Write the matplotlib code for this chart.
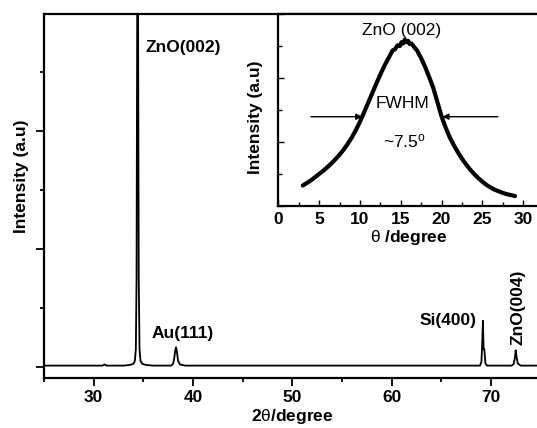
import matplotlib
matplotlib.use("Agg")
import matplotlib.pyplot as plt
from matplotlib.ticker import MultipleLocator

plt.rcParams['font.family'] = ['Liberation Sans', 'DejaVu Sans']
plt.rcParams['mathtext.fontset'] = 'custom'
plt.rcParams['mathtext.rm'] = 'Liberation Sans'
plt.rcParams['mathtext.it'] = 'Liberation Sans:italic'
plt.rcParams['mathtext.bf'] = 'Liberation Sans:bold'

# ---- main XRD pattern (2theta, intensity a.u.) ----
two_theta = [25.0, 30.9, 31.1, 31.3, 33.0, 33.6, 34.0, 34.15, 34.25, 34.32, 34.43,
             34.54, 34.62, 34.72, 34.9, 35.3, 36.0, 37.8, 38.0, 38.12, 38.22, 38.3,
             38.38, 38.5, 38.7, 39.2, 68.9, 69.05, 69.13, 69.2, 69.27, 69.33, 69.38,
             69.45, 69.6, 72.1, 72.3, 72.42, 72.5, 72.58, 72.7, 73.0, 75.0]
intensity = [0.02, 0.02, 0.04, 0.02, 0.02, 0.03, 0.05, 0.1, 0.3, 1.5, 9.0,
             1.5, 0.3, 0.1, 0.05, 0.03, 0.02, 0.02, 0.05, 0.15, 0.28, 0.33,
             0.26, 0.1, 0.04, 0.02, 0.02, 0.08, 0.4, 0.78, 0.3, 0.3, 0.22,
             0.06, 0.02, 0.02, 0.05, 0.15, 0.28, 0.18, 0.06, 0.02, 0.02]

# ---- inset: rocking curve of ZnO (002) ----
theta = [3.0, 3.5, 4.0, 4.5, 5.0, 5.5, 6.0, 6.5, 7.0, 7.5, 8.0, 8.5, 9.0, 9.5,
         10.0, 10.5, 11.0, 11.5, 12.0, 12.5, 13.0, 13.5, 14.0, 14.3, 14.6, 14.9,
         15.1, 15.3, 15.5, 15.7, 15.9, 16.1, 16.3, 16.6, 17.0, 17.5, 18.0, 18.5,
         19.0, 19.5, 20.0, 20.5, 21.0, 21.5, 22.0, 22.5, 23.0, 23.5, 24.0, 24.5,
         25.0, 25.5, 26.0, 26.5, 27.0, 27.5, 28.0, 28.5, 29.0]
rock = [0.64, 0.72, 0.80, 0.90, 1.00, 1.10, 1.21, 1.33, 1.46, 1.60, 1.76, 1.94, 2.14, 2.37,
        2.63, 2.92, 3.22, 3.52, 3.82, 4.11, 4.38, 4.62, 4.86, 4.90, 5.02, 5.00,
        5.12, 5.08, 5.20, 5.12, 5.16, 5.06, 5.08, 4.98, 4.86, 4.62, 4.34, 4.02,
        3.68, 3.24, 2.80, 2.45, 2.15, 1.90, 1.68, 1.48, 1.30, 1.14, 1.00, 0.87,
        0.76, 0.66, 0.58, 0.51, 0.46, 0.41, 0.37, 0.34, 0.31]

main_xticks = [30, 40, 50, 60, 70]
inset_xticks = [0, 5, 10, 15, 20, 25, 30]

fig = plt.figure(figsize=(5.37, 4.28), dpi=100)
ax = fig.add_axes([44.0/537, 50/428, 496.5/537, 364/428])
ax.plot(two_theta, intensity, color='black', lw=1.3)
ax.set_xlim(25, 75)
ax.set_ylim(-0.19, 5.98)
ax.set_xticks(main_xticks)
ax.xaxis.set_minor_locator(MultipleLocator(5))
ax.yaxis.set_major_locator(MultipleLocator(2))
ax.yaxis.set_minor_locator(MultipleLocator(1))
ax.set_yticklabels([])
ax.tick_params(axis='both', which='major', direction='out', length=6, width=1.3,
               labelsize=12.5, pad=3)
ax.tick_params(axis='both', which='minor', direction='out', length=3, width=1.3)
ax.tick_params(axis='y', which='both', labelleft=False)
for lab in ax.get_xticklabels():
    lab.set_fontweight('bold')
for s in ax.spines.values():
    s.set_linewidth(1.6)
ax.set_xlabel(r'2$\mathrm{\theta}$/degree', fontsize=12.5, fontweight='bold', labelpad=1)
ax.set_ylabel('Intensity (a.u)', fontsize=12.5, fontweight='bold')
ax.yaxis.set_label_coords(-0.03, 0.555)

ax.text(35.2, 5.42, 'ZnO(002)', fontsize=12.5, fontweight='bold', ha='left', va='center')
ax.text(35.8, 0.56, 'Au(111)', fontsize=12.5, fontweight='bold', ha='left', va='center')
ax.text(68.6, 0.78, 'Si(400)', fontsize=12.5, fontweight='bold', ha='right', va='center')
ax.text(72.7, 0.37, 'ZnO(004)', fontsize=12.5, fontweight='bold', ha='center', va='bottom',
        rotation=90)

# ---- inset ----
ins = fig.add_axes([278.3/537, (428-206)/428, 261.2/537, 192/428])
ins.plot(theta, rock, color='black', lw=3.0, solid_capstyle='round', solid_joinstyle='round')
ins.set_xlim(0, 32)
ins.set_ylim(0, 6)
ins.set_xticks(inset_xticks)
ins.xaxis.set_minor_locator(MultipleLocator(2.5))
ins.yaxis.set_major_locator(MultipleLocator(2))
ins.yaxis.set_minor_locator(MultipleLocator(1))
ins.tick_params(axis='both', which='major', direction='in', length=4, width=1.0,
                labelsize=12.5, pad=4)
ins.tick_params(axis='both', which='minor', direction='in', length=3, width=1.0)
ins.tick_params(axis='y', which='both', labelleft=False)
for lab in ins.get_xticklabels():
    lab.set_fontweight('bold')
for s in ins.spines.values():
    s.set_linewidth(1.6)
ins.set_xlabel(r'$\mathrm{\theta}$ /degree', fontsize=12.5, fontweight='bold', labelpad=1)
ins.set_ylabel('Intensity (a.u)', fontsize=12.5, fontweight='bold', labelpad=3)
ins.yaxis.set_label_coords(-0.06, 0.46)

ins.text(15.1, 5.47, 'ZnO (002)', fontsize=12.5, ha='center', va='center')
ins.text(15.2, 3.19, 'FWHM', fontsize=12.5, ha='center', va='center')
ins.text(15.4, 2.03, r'~7.5$^{\mathrm{o}}$', fontsize=12.5, ha='center', va='center')
arrow = dict(arrowstyle='-|>', color='black', lw=1.0, mutation_scale=9, shrinkA=0, shrinkB=0)
ins.annotate('', xy=(10.3, 2.79), xytext=(4.0, 2.79), arrowprops=arrow)
ins.annotate('', xy=(20.1, 2.79), xytext=(26.9, 2.79), arrowprops=arrow)

fig.savefig('out.png', dpi=100)
